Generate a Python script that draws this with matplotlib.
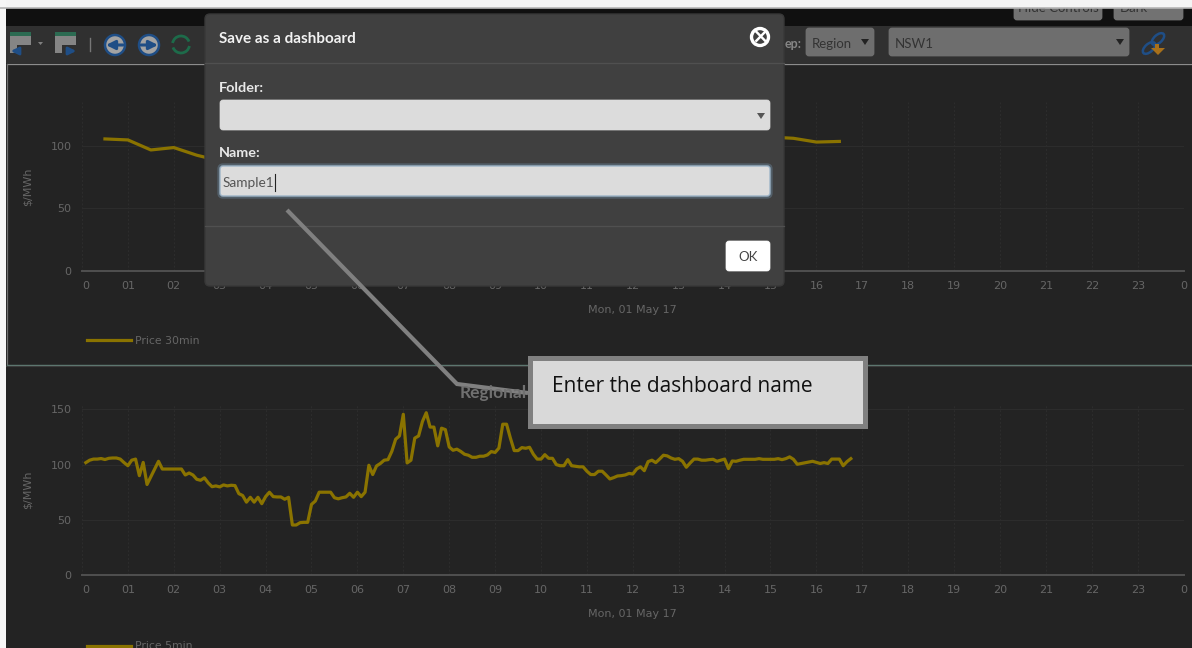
import numpy as np
import matplotlib
matplotlib.use('Agg')
import matplotlib.pyplot as plt
from matplotlib.patches import Rectangle, FancyBboxPatch, Circle, Polygon, Arc, Ellipse

W, H = 1192, 648

hour_labels = ['0'] + ['%02d' % h for h in range(1, 24)] + ['0']

# NaN where the dialog hides the line
price_30min = [105.5, 104.7, 96.7, 98.6, 92.5, 88] + [np.nan] * 23 + [107, 106, 103, 103.5]
price_30min_start = 0.5

price_5min = [
    101.8, 104, 105, 105, 105.5, 104.6, 105.7, 106, 106, 105, 101.8, 99, 104, 105, 90, 102, 82, 89, 96, 103,
    96, 96, 96, 96, 96, 96, 90.6, 92.4, 90.6, 86.7, 85.8, 88, 83.4, 80, 80.7, 79.8, 81.6, 80.7, 81.3, 81,
    73.7, 72, 66, 70.4, 66, 70.4, 64.6, 71, 75, 71, 70.7, 70.7, 68.6, 70.4, 45.3, 45.3, 47.4, 47.7, 47.7, 64,
    67, 75, 75, 75, 75, 70, 69, 70, 70.7, 74, 70.4, 75, 71, 75, 99.4, 91, 98.8, 101, 104, 104.5,
    112, 123, 126, 145.6, 101.5, 104, 124, 126, 139, 147, 134, 134, 117, 133, 131.7, 116, 113, 114, 112, 109.4,
    108.5, 106.6, 106.6, 107.6, 107.6, 108.8, 111.8, 111, 115, 136.6, 136.6, 124, 112.7, 112.7, 115.4, 114.8, 115.7, 109.4, 105, 105,
    109, 105.7, 105.7, 100, 99, 99, 104.5, 99, 98.5, 98, 98, 94, 91, 91, 94, 94, 90.6, 87, 88.2, 89.7,
    90, 90.6, 92, 91.5, 96, 98, 94.5, 102.7, 104, 101.8, 105, 108.5, 107.9, 106, 104.8, 105.4, 103, 97.6, 101.5, 105,
    105, 104, 104, 104.5, 104.8, 103, 104, 105, 96.4, 103.3, 103, 104, 104.8, 104.8, 104.8, 104.8, 105.4, 104.8, 104.8, 104.8, 104.8,
    105.4, 104.5, 105.4, 107, 104.8, 100.3, 101, 101.8, 102.4, 103, 102, 101, 101.8, 101, 105, 105, 105, 99, 102.7, 105.4,
]

BG = '#232323'
GOLD = '#8a7300'
TICK = '#666666'
GRID = '#2d2d2d'
BLUE = '#1f4e86'


def pixel_axes(left, top, right, bottom, zorder):
    return fig.add_axes([left / W, 1 - bottom / H, (right - left) / W, (bottom - top) / H], zorder=zorder)


def draw_chart(ax, hours, prices, ymax, yticks, legend_label, legend_y):
    ax.set_facecolor('none')
    ax.plot(hours, prices, color=GOLD, lw=2.3, solid_joinstyle='round', label=legend_label)
    ax.set_xlim(0, 24)
    ax.set_ylim(0, ymax)
    ax.set_xticks(range(25))
    ax.set_xticklabels(hour_labels, fontsize=8, color=TICK)
    ax.get_xticklabels()[0].set_ha('left')
    ax.set_yticks(yticks)
    ax.set_yticklabels(yticks, fontsize=8, color=TICK)
    ax.tick_params(axis='x', length=0, pad=7)
    ax.tick_params(axis='y', length=0, pad=7.5)
    ax.grid(axis='x', color=GRID, lw=0.7, ls=(0, (2, 2)))
    ax.grid(axis='y', color=GRID, lw=0.7)
    ax.set_axisbelow(True)
    for side in ['top', 'right', 'left']:
        ax.spines[side].set_visible(False)
    ax.spines['bottom'].set_color('#505050')
    ax.spines['bottom'].set_linewidth(1.4)
    ax.set_ylabel('$/MWh', fontsize=8, color=TICK, labelpad=13)
    ax.set_xlabel('Mon, 01 May 17', fontsize=8, color=TICK, labelpad=10.5)
    ax.legend(loc='upper left', bbox_to_anchor=(5 / 1101.6, legend_y), frameon=False, fontsize=7.8, labelcolor=TICK,
              handlelength=4.1, borderpad=0, borderaxespad=0, handletextpad=0.35)


fig = plt.figure(figsize=(W / 100, H / 100), dpi=100, facecolor='white')

# page behind the charts
back = pixel_axes(0, 0, W, H, 0)
back.set_xlim(0, W)
back.set_ylim(H, 0)
back.axis('off')
back.add_patch(Rectangle((6, 8), W, H, color=BG, lw=0))
back.add_patch(Rectangle((6, 8), W, 18, color='#101010', lw=0))
back.add_patch(Rectangle((6, 26), W, 37, color='#303030', lw=0))
back.plot([7, W], [64, 64], color='#8c8c8c', lw=0.9)
back.plot([7, 7], [64, 364], color='#6f6f6f', lw=0.9)
back.plot([7, W], [364.5, 364.5], color='#5f7a72', lw=1.0)
back.plot([6, W], [366, 366], color='#3c3c3c', lw=0.8)

for x0, x1, label in [(1013, 1103, 'Hide Controls'), (1113, 1184, 'Dark')]:
    back.add_patch(FancyBboxPatch((x0 + 2, -8), x1 - x0 - 4, 27, boxstyle='round,pad=0,rounding_size=2', fc='#727272', ec='#727272', lw=2))
    back.text((x0 + x1) / 2 if label != 'Dark' else 1134, 8, label, fontsize=9.5, family='Lato', color='#333333', ha='center', va='center')
back.add_patch(Rectangle((0, 0), W, 8, color='#f4f4f4', lw=0, zorder=5))
back.plot([0, W], [8, 8], color='#b5b5b5', lw=1.2, zorder=6)
back.add_patch(Rectangle((0, 0), 6, H, color='#f6f6f6', lw=0, zorder=5))

# selects in the toolbar
for x0, x1, label, tx in [(805, 875, 'Region', 812), (888, 1130, 'NSW1', 895)]:
    back.add_patch(FancyBboxPatch((x0 + 2, 29), x1 - x0 - 4, 26, boxstyle='round,pad=0,rounding_size=2', fc='#6e6e6e', ec='#6e6e6e', lw=2))
    back.text(tx, 44, label, fontsize=9.5, family='Lato', color='#333333', va='center')
    back.add_patch(Polygon([(x1 - 14, 39), (x1 - 6, 39), (x1 - 10, 45)], color='#222222', lw=0))
back.text(802, 44, 'ep:', fontsize=9, family='Lato', weight='bold', color='#858585', ha='right', va='center')

# toolbar icons
for x0 in [10, 55]:
    back.add_patch(Rectangle((x0, 33), 21, 20, color='#858585', lw=0))
    back.add_patch(Rectangle((x0, 32), 21, 4, color='#2c6b52', lw=0))
    back.add_patch(Rectangle((x0 + 7, 45), 14, 9, color='#303030', lw=0))
back.annotate('', xy=(8, 51), xytext=(22, 51), arrowprops=dict(arrowstyle='-|>', color=BLUE, lw=2, mutation_scale=11))
back.annotate('', xy=(79, 51), xytext=(65, 51), arrowprops=dict(arrowstyle='-|>', color=BLUE, lw=2, mutation_scale=11))
back.add_patch(Polygon([(38, 42), (43, 42), (40.5, 45)], color='#808080', lw=0))
back.plot([90, 90], [38, 51], color='#777777', lw=1)
for cx, tip, tail in [(115, 106, 123), (149, 158, 141)]:
    back.add_patch(Circle((cx, 45), 10, fc='#a3a3a3', ec=BLUE, lw=1.8))
    back.annotate('', xy=(tip, 45), xytext=(tail, 45), arrowprops=dict(arrowstyle='-|>', color=BLUE, lw=2.2, mutation_scale=13, shrinkA=0, shrinkB=0))
back.add_patch(Arc((181, 44.5), 17, 17, theta1=190, theta2=340, color='#1d6b4a', lw=2))
back.add_patch(Arc((181, 44.5), 17, 17, theta1=10, theta2=160, color='#1d6b4a', lw=2))
back.add_patch(Ellipse((1149, 48), 15, 8, angle=-42, fc='none', ec=BLUE, lw=1.8))
back.add_patch(Ellipse((1158, 39), 15, 8, angle=-42, fc='none', ec=BLUE, lw=1.8))
back.add_patch(Polygon([(1155, 44), (1159, 44), (1159, 48), (1165, 48), (1158, 55), (1151, 48), (1155, 48)], color='#a8701a', lw=0))

# charts
ax_top = pixel_axes(82, 102, 1183.6, 271, 1)
hours_30 = price_30min_start + 0.5 * np.arange(len(price_30min))
draw_chart(ax_top, hours_30, price_30min, 135, [0, 50, 100], 'Price 30min', -0.385)

ax_bot = pixel_axes(82, 405, 1183.6, 575, 1)
hours_5 = (1 + np.arange(len(price_5min))) * 5 / 60
draw_chart(ax_bot, hours_5, price_5min, 154, [0, 50, 100, 150], 'Price 5min', -0.39)

# dialog and callout on top
front = pixel_axes(0, 0, W, H, 5)
front.set_xlim(0, W)
front.set_ylim(H, 0)
front.axis('off')
front.patch.set_alpha(0)

front.text(460, 393, 'Regional', fontsize=12.5, family='Lato', weight='bold', color='#707070', va='center')

front.add_patch(FancyBboxPatch((205, 14), 579, 272, boxstyle='round,pad=0,rounding_size=5', fc='#404040', ec='#383838', lw=1))
front.plot([205, 784], [63, 63], color='#505050', lw=0.9)
front.plot([205, 784], [225.5, 225.5], color='#505050', lw=0.9)
front.text(219, 39, 'Save as a dashboard', fontsize=11, family='Lato', weight='bold', color='#f2f2f2', va='center')
front.text(219, 88, 'Folder:', fontsize=10.4, family='Lato', weight='bold', color='#e8e8e8', va='center')
front.text(219, 153, 'Name:', fontsize=10.4, family='Lato', weight='bold', color='#e8e8e8', va='center')

front.add_patch(Circle((760, 37), 8.5, fc='#404040', ec='white', lw=2.4))
front.text(760, 36.5, '×', fontsize=15, weight='bold', color='white', ha='center', va='center')

front.add_patch(FancyBboxPatch((220, 100), 550, 30, boxstyle='round,pad=0,rounding_size=3', fc='#dcdcdc', ec='#dcdcdc', lw=0.5))
front.add_patch(Polygon([(757, 113), (765, 113), (761, 119)], color='#555555', lw=0))
front.add_patch(FancyBboxPatch((219, 165), 552, 32, boxstyle='round,pad=0,rounding_size=4', fc='none', ec='#6f8ea8', lw=2.4, alpha=0.4))
front.add_patch(FancyBboxPatch((220, 166), 550, 30, boxstyle='round,pad=0,rounding_size=3', fc='#dcdcdc', ec='#9db4c7', lw=1))
front.text(223, 183, 'Sample1', fontsize=9.8, family='Lato', color='#555555', va='center')
front.plot([275, 275], [174, 191], color='#222222', lw=0.8)

front.add_patch(FancyBboxPatch((726, 241), 44, 30, boxstyle='round,pad=0,rounding_size=3', fc='white', ec='white', lw=0.5))
front.text(748, 257, 'OK', fontsize=9.5, family='Lato', color='#444444', ha='center', va='center')

front.plot([287, 457, 528], [210, 384, 393], color='#808080', lw=3, solid_joinstyle='miter', solid_capstyle='butt')
front.add_patch(Rectangle((530, 358), 334.5, 68, fc='#d9d9d9', ec='#808080', lw=3.6))
front.text(552, 387, 'Enter the dashboard name', fontsize=15, family='Open Sans', color='#111111', va='center')

fig.savefig('out.png', dpi=100)
